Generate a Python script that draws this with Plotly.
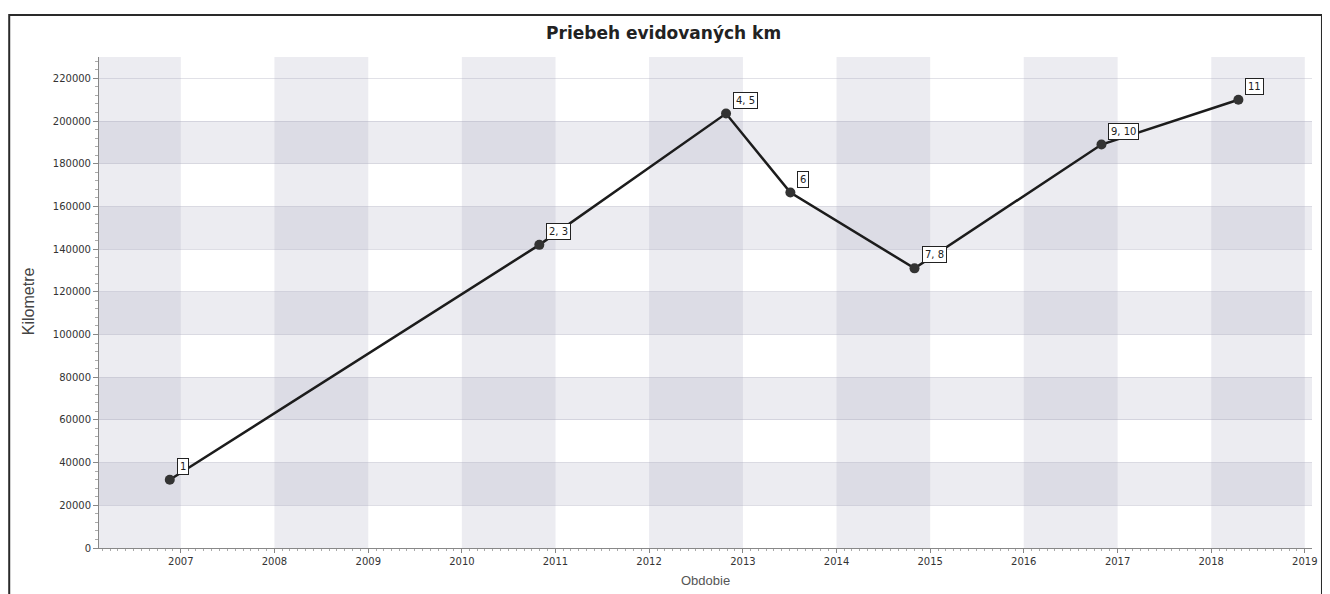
import plotly.graph_objects as go

# ---- data ----
dates = ["2006-11-19", "2010-10-30", "2012-10-27", "2013-07-05",
         "2014-11-01", "2016-10-30", "2018-04-17"]
km = [32000, 142000, 203500, 166500, 131000, 189000, 210000]
point_labels = ["1", "2, 3", "4, 5", "6", "7, 8", "9, 10", "11"]
years = list(range(2007, 2020))
year_labels = [str(y) for y in years]
y_ticks = list(range(0, 220001, 20000))

# page body has an 8px margin, so the figure is laid out 8px smaller
OFF = 8
W, H = 1330 - OFF, 594 - OFF
ML, MR, MT, MB = 99 - OFF, 15, 57 - OFF, 594 - 548

fig = go.Figure()
fig.add_trace(go.Scatter(
    x=dates, y=km, mode="lines+markers",
    line=dict(color="#1c1c1c", width=2.5),
    marker=dict(color="#333333", size=10),
    hoverinfo="skip", showlegend=False,
))

shapes = []
band_edges = ["2006-01-01"] + [f"{y}-01-01" for y in range(2007, 2021)]
for i in range(0, len(band_edges) - 1, 2):
    shapes.append(dict(type="rect", xref="x", yref="y domain",
                       x0=band_edges[i], x1=band_edges[i + 1], y0=0, y1=1,
                       fillcolor="rgba(150,150,178,0.18)", line=dict(width=0),
                       layer="below"))
for v in range(20000, 200001, 40000):
    shapes.append(dict(type="rect", xref="x domain", yref="y",
                       x0=0, x1=1, y0=v, y1=v + 20000,
                       fillcolor="rgba(150,150,178,0.18)", line=dict(width=0),
                       layer="below"))
pw = W - ML - MR
ph = H - MT - MB
def px(xp):
    return (xp - OFF - ML) / pw
def py(yp):
    return (H - MB - (yp - OFF)) / ph
shapes.append(dict(type="rect", xref="paper", yref="paper",
                   x0=px(9), x1=px(1325), y0=py(640), y1=py(15),
                   line=dict(color="#2a2a2a", width=2), fillcolor="rgba(0,0,0,0)"))

annotations = []
for d, v, t in zip(dates, km, point_labels):
    annotations.append(dict(x=d, y=v, xref="x", yref="y", text=t,
                            showarrow=False, xanchor="left", yanchor="bottom",
                            xshift=7, yshift=5,
                            font=dict(family="DejaVu Sans", size=10, color="#222"),
                            bgcolor="white", bordercolor="#222", borderwidth=1,
                            borderpad=2))
annotations.append(dict(text="Kilometre", xref="paper", yref="paper",
                        x=px(28), y=py(301), showarrow=False, textangle=-90,
                        xanchor="center", yanchor="middle",
                        font=dict(family="Liberation Sans", size=16, color="#444")))
annotations.append(dict(text="Obdobie", xref="paper", yref="paper",
                        x=0.5, y=py(580), showarrow=False,
                        xanchor="center", yanchor="middle",
                        font=dict(family="Liberation Sans", size=13, color="#555")))

fig.update_layout(
    width=W, height=H,
    margin=dict(l=ML, r=MR, t=MT, b=MB),
    paper_bgcolor="white", plot_bgcolor="white",
    title=dict(text="<b>Priebeh evidovaných km</b>", x=px(665), xanchor="center",
               xref="paper",
               y=1 - (33 - OFF) / H, yanchor="middle", yref="container",
               font=dict(family="DejaVu Sans", size=17, color="#222")),
    shapes=shapes, annotations=annotations,
    xaxis=dict(type="date", range=["2006-02-16", "2019-01-29"],
               tickvals=[f"{y}-01-01" for y in years], ticktext=year_labels,
               tickfont=dict(family="DejaVu Sans", size=10, color="#333"),
               showgrid=False, zeroline=False,
               showline=True, linecolor="#888", linewidth=1,
               ticks="outside", ticklen=4, tickcolor="#888",
               minor=dict(dtick="M1", ticklen=2, tickcolor="#aaa", ticks="outside"),
               fixedrange=True),
    yaxis=dict(range=[0, 230000], tickvals=y_ticks,
               ticktext=[str(t) for t in y_ticks],
               tickfont=dict(family="DejaVu Sans", size=10, color="#333"),
               showgrid=True, gridcolor="rgba(170,170,185,0.35)", gridwidth=1,
               zeroline=False, showline=True, linecolor="#888", linewidth=1,
               ticks="outside", ticklen=5, tickcolor="#888",
               minor=dict(dtick=4000, ticklen=3, tickcolor="#aaa", ticks="outside"),
               fixedrange=True),
)

fig.write_html("out.html")
